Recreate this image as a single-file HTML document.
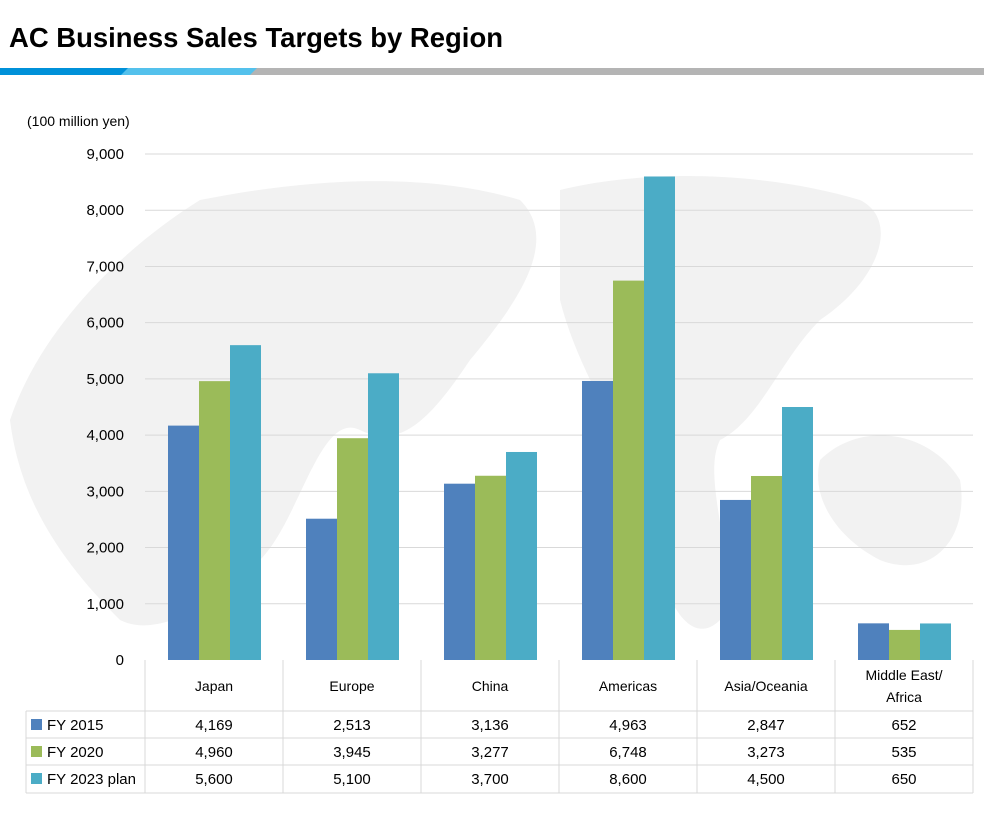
<!DOCTYPE html>
<html><head><meta charset="utf-8"><style>
body{margin:0;background:#fff;width:984px;height:808px;overflow:hidden;font-family:"Liberation Sans",sans-serif}
</style></head><body>
<svg width="984" height="808" xmlns="http://www.w3.org/2000/svg">
<text x="9" y="47" font-size="28" font-weight="bold" fill="#000" textLength="494" lengthAdjust="spacingAndGlyphs">AC Business Sales Targets by Region</text>
<rect x="0" y="68" width="984" height="7" fill="#b4b4b4"/>
<polygon points="0,68 257,68 250,75 0,75" fill="#54c1ec"/>
<polygon points="0,68 128,68 121,75 0,75" fill="#0091d9"/>
<g fill="#f2f2f2">
<path d="M10,420 C40,330 120,250 200,200 C300,180 420,170 520,200 C560,240 520,300 470,360 C430,420 400,450 360,430 C320,410 300,520 260,560 C220,600 160,640 120,620 C60,560 20,500 10,420Z"/>
<path d="M560,190 C640,170 760,170 860,200 C900,220 880,280 820,320 C780,360 760,420 720,440 C700,480 740,560 720,620 C690,650 660,600 650,520 C630,440 580,380 560,300Z"/>
<path d="M820,460 C860,420 930,430 960,480 C970,540 930,580 880,560 C840,540 810,500 820,460Z"/>
</g>
<text x="27" y="126" font-size="14" fill="#000">(100 million yen)</text>
<g id="grid"></g><g id="bars"></g><g id="table"></g>
</svg>
<script>
const categories=["Japan","Europe","China","Americas","Asia/Oceania","Middle East/Africa"];
const seriesNames=["FY 2015","FY 2020","FY 2023 plan"];
const fy2015=[4169,2513,3136,4963,2847,652];
const fy2020=[4960,3945,3277,6748,3273,535];
const fy2023=[5600,5100,3700,8600,4500,650];
const ticks=[0,1000,2000,3000,4000,5000,6000,7000,8000,9000];
const colors=["#4f81bd","#9bbb59","#4bacc6"];
const NS="http://www.w3.org/2000/svg";
const x0=145,x1=973,yTop=154,yBot=660,maxV=9000;
const gw=(x1-x0)/categories.length;
const y=v=>yBot-(v/maxV)*(yBot-yTop);
const fmt=v=>v.toLocaleString("en-US");
function mk(t,a,p){const e=document.createElementNS(NS,t);for(const k in a)e.setAttribute(k,a[k]);p.appendChild(e);return e;}
const grid=document.getElementById("grid");
ticks.forEach(t=>{
 if(t>0){const l=mk("line",{x1:x0,x2:x1,y1:y(t),y2:y(t),stroke:"#d9d9d9","stroke-width":1},grid);
 
 }
 const tx=mk("text",{x:124,y:y(t)+5,"font-size":15,"text-anchor":"end",fill:"#000"},grid);tx.textContent=fmt(t);
 
 
});
const bars=document.getElementById("bars");
const series=[fy2015,fy2020,fy2023];
const bw=31;
series.forEach((s,si)=>s.forEach((v,ci)=>{
 const bx=x0+ci*gw+23+si*bw;
 const r=mk("rect",{x:bx,y:y(v),width:bw,height:yBot-y(v),fill:colors[si]},bars);
 
 
}));
const tb=document.getElementById("table");
const st={stroke:"#d9d9d9","stroke-width":1};
const rows=[660,711,738,765,793];
[[x0,711],[26,711],[26,738],[26,765],[26,793]].forEach(([xs,yy])=>{const l=mk("line",Object.assign({x1:xs,x2:x1,y1:yy,y2:yy},st),tb);
 
 });
mk("line",Object.assign({x1:26,x2:26,y1:711,y2:793},st),tb);
for(let i=0;i<=categories.length;i++){const xx=x0+i*gw;const l=mk("line",Object.assign({x1:xx,x2:xx,y1:660,y2:793},st),tb);
 
 }
categories.forEach((c,i)=>{
 const cx=x0+i*gw+gw/2;
 const parts=c==="Middle East/Africa"?["Middle East/","Africa"]:[c];
 parts.forEach((p,pi)=>{const t=mk("text",{x:cx,y:(parts.length>1?680+pi*22:691),"font-size":14,"text-anchor":"middle",fill:"#000"},tb);t.textContent=p;
 
 });
 series.forEach((s,si)=>{const t=mk("text",{x:cx,y:rows[si+1]+19,"font-size":15,"text-anchor":"middle",fill:"#000"},tb);t.textContent=fmt(s[i]);
 
 });
});
seriesNames.forEach((n,si)=>{
 const r=mk("rect",{x:31,y:rows[si+1]+8,width:11,height:11,fill:colors[si]},tb);
 
 
 const t=mk("text",{x:47,y:rows[si+1]+19,"font-size":15,fill:"#000"},tb);t.textContent=n;
 
 
});
</script>
</body></html>
